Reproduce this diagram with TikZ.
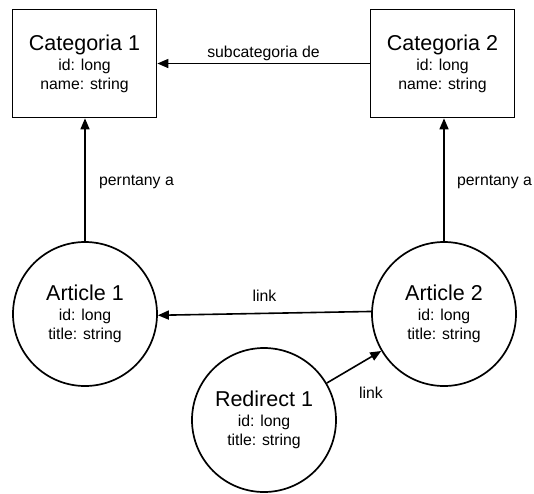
\documentclass[tikz,border=0pt]{standalone}
\usepackage{fontspec}
\setmainfont{Liberation Sans}
\usetikzlibrary{arrows.meta}

\begin{document}
\begin{tikzpicture}[
  x=1pt, y=-1pt,
  every node/.style={font=\fontsize{15.8}{19}\selectfont},
  entity/.style={draw, line width=1.7pt, align=center, inner sep=0pt},
  catbox/.style={entity, rectangle, minimum width=144pt, minimum height=108pt},
  artcircle/.style={entity, circle, minimum size=144pt},
  rel/.style={line width=1.6pt, -{Triangle[length=11pt, width=9pt]}},
]
\useasboundingbox (0,0) rectangle (534,493);

% category boxes
\node[catbox] (c1) at (84.5,63.5)
  {{\fontsize{21.5}{19}\selectfont Categoria 1}\\[0.8pt] id: long\\ name: string};
\node[catbox] (c2) at (442.5,63.5)
  {{\fontsize{21.5}{19}\selectfont Categoria 2}\\[0.8pt] id: long\\ name: string};

% article and redirect circles
\node[artcircle] (a1) at (85,314)
  {{\fontsize{21.5}{19}\selectfont Article 1}\\[0.8pt] id: long\\ title: string};
\node[artcircle] (a2) at (444,314)
  {{\fontsize{21.5}{19}\selectfont Article 2}\\[0.8pt] id: long\\ title: string};
\node[artcircle] (r1) at (264,420)
  {{\fontsize{21.5}{19}\selectfont Redirect 1}\\[0.8pt] id: long\\ title: string};

% relations
\draw[rel] (c2.west) -- (c1.east)
  node[pos=0.5, yshift=10pt] (lsub) {subcategoria de};
\draw[rel] (a1.north) -- (a1.north |- c1.south);
\draw[rel] (a2.north) -- (a2.north |- c2.south);
\draw[rel] (a2.178) -- (a1.359)
  node[pos=0.5, yshift=18pt] (llink) {link};
\draw[rel] (r1) -- (a2);

% relation labels
\node (lp1) at (136.5,182) {perntany a};
\node (lp2) at (494.5,182) {perntany a};
\node (lred) at (371,393) {link};
\end{tikzpicture}
\end{document}
